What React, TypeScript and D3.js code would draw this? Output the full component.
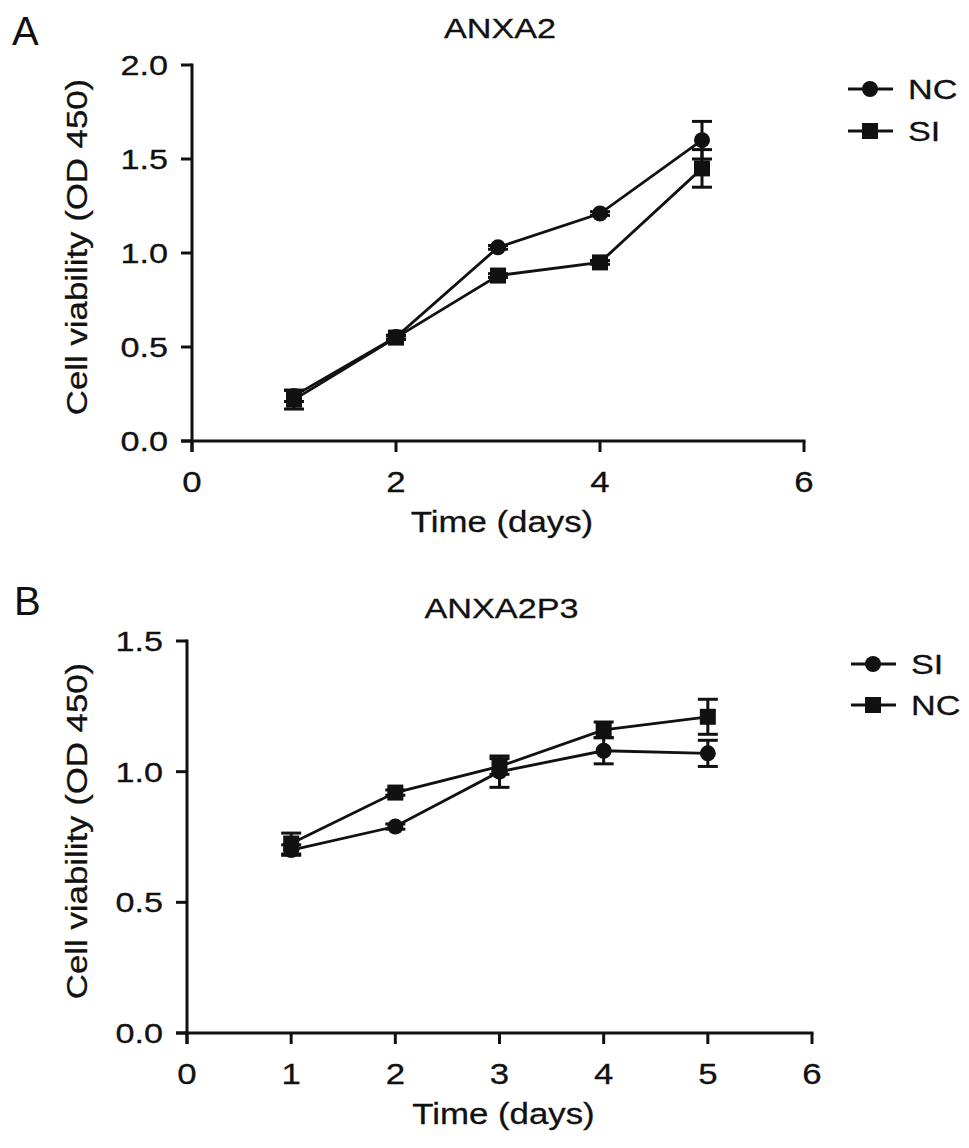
import React from "react";
import * as d3 from "d3";

// days on the x axis
const days = [1, 2, 3, 4, 5];

// panel A: ANXA2
const anxa2NC = [0.24, 0.553, 1.03, 1.21, 1.6];
const anxa2NCErr = [0.03, 0.01, 0.01, 0.01, 0.1];
const anxa2SI = [0.22, 0.55, 0.88, 0.95, 1.45];
const anxa2SIErr = [0.05, 0.01, 0.01, 0.01, 0.1];

// panel B: ANXA2P3
const anxa2p3SI = [0.7, 0.79, 1.0, 1.08, 1.07];
const anxa2p3SIErr = [0.02, 0.01, 0.06, 0.05, 0.05];
const anxa2p3NC = [0.725, 0.92, 1.02, 1.16, 1.21];
const anxa2p3NCErr = [0.04, 0.01, 0.03, 0.03, 0.067];

const ticksA_x = [0, 2, 4, 6];
const ticksA_y = [0, 0.5, 1.0, 1.5, 2.0];
const ticksB_x = [0, 1, 2, 3, 4, 5, 6];
const ticksB_y = [0, 0.5, 1.0, 1.5];

const FONT = "'Liberation Sans', Arial, Helvetica, sans-serif";
const INK = "#111";
const SX = 1.2; // type in the figure is set wider than Arial

type Series = { name: string; shape: "circle" | "square"; values: number[]; err: number[] };

interface PanelProps {
  letter: string;
  title: string;
  series: Series[];
  xTicks: number[];
  yTicks: number[];
  yMax: number;
  xRange: [number, number];
  yRange: [number, number];
  letterPos: [number, number];
  titleY: number;
  legendX: number;
  legendY: number[];
}

function Label({ x, y, text, anchor = "middle", size = 28.5, rotate = false }: any) {
  const t = rotate
    ? `translate(${x},${y}) rotate(-90) scale(${SX},1)`
    : `translate(${x},${y}) scale(${SX},1)`;
  return (
    <text
      transform={t}
      textAnchor={anchor}
      fontSize={size}
      fontFamily={FONT}
      fill={INK}
      stroke={INK}
      strokeWidth={0.3}
    >
      {text}
    </text>
  );
}

function Marker({ shape, x, y }: { shape: string; x: number; y: number }) {
  if (shape === "circle") return <circle cx={x} cy={y} r={8} fill={INK} />;
  return <rect x={x - 8} y={y - 8} width={16} height={16} fill={INK} />;
}

function Panel(p: PanelProps) {
  const x = d3.scaleLinear().domain([0, 6]).range(p.xRange);
  const y = d3.scaleLinear().domain([0, p.yMax]).range(p.yRange);
  const [x0, x1] = p.xRange;
  const [yb, yt] = p.yRange;
  const fmt = d3.format(".1f");
  const tick = 11;

  return (
    <g>
      <text x={p.letterPos[0]} y={p.letterPos[1]} fontSize={40} fontFamily={FONT} fill={INK}>
        {p.letter}
      </text>
      <Label x={(x0 + x1) / 2 + 2} y={p.titleY} text={p.title} />

      {/* axes */}
      <g stroke={INK} strokeWidth={3} fill="none">
        <line x1={x0} x2={x0} y1={yt - 1.5} y2={yb + tick} />
        <line x1={x0 - tick} x2={x1 + 1.5} y1={yb} y2={yb} />
        {p.yTicks.map(t => (
          <line key={"yt" + t} x1={x0 - tick} x2={x0} y1={y(t)} y2={y(t)} />
        ))}
        {p.xTicks.map(t => (
          <line key={"xt" + t} x1={x(t)} x2={x(t)} y1={yb} y2={yb + tick} />
        ))}
      </g>
      {p.yTicks.map(t => (
        <Label key={"yl" + t} x={x0 - 24} y={y(t) + 10} text={fmt(t)} anchor="end" />
      ))}
      {p.xTicks.map(t => (
        <Label key={"xl" + t} x={x(t)} y={yb + 51} text={String(t)} size={29} />
      ))}
      <Label x={(x0 + x1) / 2 + 4} y={yb + 91} text="Time (days)" size={29} />
      <Label x={87} y={(yb + yt) / 2 - 6} text="Cell viability (OD 450)" rotate size={29} />

      {/* series */}
      {p.series.map(s => {
        const line = d3.line<number>().x((_, i) => x(days[i])).y(v => y(v));
        return (
          <g key={s.name}>
            <path d={line(s.values) || ""} fill="none" stroke={INK} strokeWidth={2.8} />
            <g stroke={INK} strokeWidth={3}>
              {s.values.map((v, i) => {
                const cx = x(days[i]);
                const lo = y(v - s.err[i]);
                const hi = y(v + s.err[i]);
                return (
                  <g key={i}>
                    <line x1={cx} x2={cx} y1={lo} y2={hi} />
                    <line x1={cx - 10} x2={cx + 10} y1={lo} y2={lo} />
                    <line x1={cx - 10} x2={cx + 10} y1={hi} y2={hi} />
                  </g>
                );
              })}
            </g>
            {s.values.map((v, i) => (
              <Marker key={i} shape={s.shape} x={x(days[i])} y={y(v)} />
            ))}
          </g>
        );
      })}

      {/* legend */}
      {p.series.map((s, i) => {
        const ly = p.legendY[i];
        return (
          <g key={"lg" + s.name}>
            <line x1={p.legendX} x2={p.legendX + 45} y1={ly} y2={ly} stroke={INK} strokeWidth={3} />
            <Marker shape={s.shape} x={p.legendX + 22} y={ly} />
            <Label x={p.legendX + 60} y={ly + 10} text={s.name} anchor="start" />
          </g>
        );
      })}
    </g>
  );
}

export default function App() {
  const seriesA: Series[] = [
    { name: "NC", shape: "circle", values: anxa2NC, err: anxa2NCErr },
    { name: "SI", shape: "square", values: anxa2SI, err: anxa2SIErr },
  ];
  const seriesB: Series[] = [
    { name: "SI", shape: "circle", values: anxa2p3SI, err: anxa2p3SIErr },
    { name: "NC", shape: "square", values: anxa2p3NC, err: anxa2p3NCErr },
  ];
  return (
    <svg
      width={969}
      height={1148}
      style={{ position: "absolute", left: 0, top: 0, background: "#fff" }}
    >
      <rect width={969} height={1148} fill="#fff" />
      <Panel
        letter="A"
        title="ANXA2"
        series={seriesA}
        xTicks={ticksA_x}
        yTicks={ticksA_y}
        yMax={2}
        xRange={[192, 804]}
        yRange={[441, 65]}
        letterPos={[12, 45]}
        titleY={38}
        legendX={848}
        legendY={[89, 131]}
      />
      <Panel
        letter="B"
        title="ANXA2P3"
        series={seriesB}
        xTicks={ticksB_x}
        yTicks={ticksB_y}
        yMax={1.5}
        xRange={[187, 812]}
        yRange={[1033, 641]}
        letterPos={[14, 615]}
        titleY={618}
        legendX={851}
        legendY={[664, 705]}
      />
    </svg>
  );
}
